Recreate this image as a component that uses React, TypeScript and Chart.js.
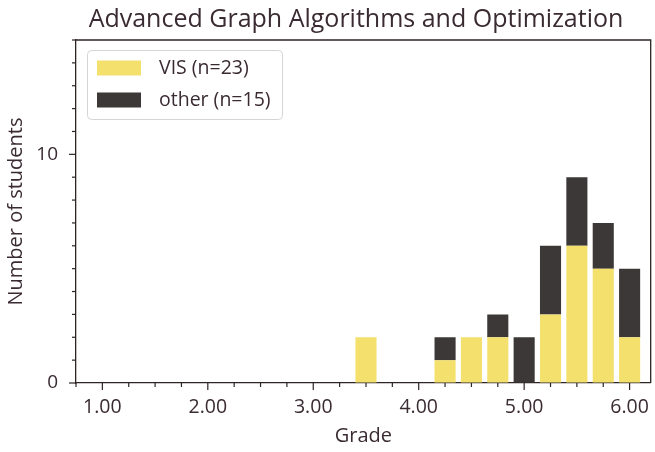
import React, { useEffect, useRef } from "react";
import { Chart, registerables } from "chart.js";

Chart.register(...registerables);

const TITLE = "Advanced Graph Algorithms and Optimization";
const X_TITLE = "Grade";
const Y_TITLE = "Number of students";

const GRADES = [3.5, 4.25, 4.5, 4.75, 5.0, 5.25, 5.5, 5.75, 6.0];
const VIS_COUNTS = [2, 1, 2, 2, 0, 3, 6, 5, 2];
const OTHER_COUNTS = [0, 1, 0, 1, 2, 3, 3, 2, 3];
const VIS_LABEL = "VIS (n=23)";
const OTHER_LABEL = "other (n=15)";
const Y_MAJOR = [0, 10];

const FONT = "'Open Sans', sans-serif";
const TEXT = "#3a2b33";
const AXIS = "#2e2424";
const YELLOW = "#f4e06c";
const DARK = "#3b3837";

const titlePlugin = {
  id: "chartTitle",
  afterDraw(chart: any) {
    const ctx = chart.ctx;
    ctx.save();
    ctx.font = `25px ${FONT}`;
    ctx.fillStyle = TEXT;
    ctx.textAlign = "center";
    ctx.textBaseline = "alphabetic";
    ctx.fillText(TITLE, 356, 27);
    ctx.restore();
  },
};

const ticksPlugin = {
  id: "customTicks",
  afterDraw(chart: any) {
    const ctx = chart.ctx;
    const x = chart.scales.x;
    const y = chart.scales.y;
    const area = chart.chartArea;
    ctx.save();
    ctx.strokeStyle = AXIS;
    ctx.lineWidth = 1.3;
    ctx.beginPath();
    ctx.moveTo(area.left, area.top);
    ctx.lineTo(area.right, area.top);
    ctx.lineTo(area.right, area.bottom);
    ctx.stroke();
    ctx.lineWidth = 1.2;
    x.ticks.forEach((t: any) => {
      const px = x.getPixelForValue(t.value);
      const major = Math.abs(t.value - Math.round(t.value)) < 1e-6;
      const len = major ? 7 : 4;
      ctx.beginPath();
      ctx.moveTo(px, area.bottom);
      ctx.lineTo(px, area.bottom + len);
      ctx.stroke();
    });
    y.ticks.forEach((t: any) => {
      const py = y.getPixelForValue(t.value);
      const major = Y_MAJOR.includes(t.value);
      const len = major ? 7 : 4;
      ctx.beginPath();
      ctx.moveTo(area.left, py);
      ctx.lineTo(area.left - len, py);
      ctx.stroke();
    });
    ctx.restore();
  },
};

const legendPlugin = {
  id: "insideLegend",
  afterDraw(chart: any) {
    const ctx = chart.ctx;
    const area = chart.chartArea;
    const ds = chart.data.datasets;
    const bx = area.left + 11;
    const by = area.top + 10;
    const bw = 195;
    const bh = 69;
    ctx.save();
    ctx.fillStyle = "rgba(255,255,255,0.9)";
    ctx.strokeStyle = "#d6d3d3";
    ctx.lineWidth = 1;
    ctx.beginPath();
    (ctx as any).roundRect(bx + 0.5, by + 0.5, bw, bh, 4);
    ctx.fill();
    ctx.stroke();
    ctx.font = `19.5px ${FONT}`;
    ctx.textBaseline = "middle";
    ds.forEach((d: any, i: number) => {
      const cy = by + 18 + i * 32;
      ctx.fillStyle = d.backgroundColor;
      ctx.fillRect(bx + 10, cy - 7.5, 44, 15);
      ctx.fillStyle = TEXT;
      ctx.fillText(d.label, bx + 72, cy);
    });
    ctx.restore();
  },
};

export default function App() {
  const ref = useRef<HTMLCanvasElement>(null);
  useEffect(() => {
    document.body.style.margin = "0";
    const chart = new Chart(ref.current!, {
      type: "bar",
      data: {
        datasets: [
          {
            label: VIS_LABEL,
            data: GRADES.map((g, i) => ({ x: g, y: VIS_COUNTS[i] })),
            backgroundColor: YELLOW,
            barPercentage: 0.8,
            categoryPercentage: 1,
          },
          {
            label: OTHER_LABEL,
            data: GRADES.map((g, i) => ({ x: g, y: OTHER_COUNTS[i] })),
            backgroundColor: DARK,
            barPercentage: 0.8,
            categoryPercentage: 1,
          },
        ],
      },
      options: {
        animation: false,
        responsive: false,
        layout: { padding: { left: 0, right: 3, top: 40, bottom: 0 } },
        plugins: {
          legend: { display: false },
          tooltip: { enabled: false },
          title: { display: false },
        },
        scales: {
          x: {
            type: "linear",
            stacked: true,
            min: 0.75,
            max: 6.2,
            offset: false,
            afterFit: (s: any) => {
              s.height = 69;
            },
            ticks: {
              stepSize: 0.25,
              includeBounds: false,
              autoSkip: false,
              maxRotation: 0,
              color: TEXT,
              padding: 6,
              font: { family: FONT, size: 19.5 },
              callback: (v: any) =>
                Math.abs(v - Math.round(v)) < 1e-6 ? Number(v).toFixed(2) : "",
            },
            grid: {
              display: true,
              drawOnChartArea: false,
              drawTicks: true,
              tickLength: 7,
              tickColor: "rgba(0,0,0,0)",
            },
            border: { display: true, color: AXIS, width: 1.3 },
            title: {
              display: true,
              text: X_TITLE,
              color: TEXT,
              font: { family: FONT, size: 20 },
              padding: { top: 0, bottom: 4 },
            },
          },
          y: {
            stacked: true,
            min: 0,
            max: 15,
            afterFit: (s: any) => {
              s.width = 76;
            },
            ticks: {
              stepSize: 1,
              autoSkip: false,
              color: TEXT,
              padding: 11,
              font: { family: FONT, size: 19 },
              callback: (v: any) => (Y_MAJOR.includes(v) ? String(v) : ""),
            },
            grid: {
              display: true,
              drawOnChartArea: false,
              drawTicks: true,
              tickLength: 7,
              tickColor: "rgba(0,0,0,0)",
            },
            border: { display: true, color: AXIS, width: 1.3 },
            title: {
              display: true,
              text: Y_TITLE,
              color: TEXT,
              font: { family: FONT, size: 20 },
              padding: { top: 4, bottom: 0 },
            },
          },
        },
      },
      plugins: [titlePlugin, ticksPlugin, legendPlugin],
    });
    return () => chart.destroy();
  }, []);
  return (
    <div style={{ width: 655, height: 452 }}>
      <canvas ref={ref} width={655} height={452} style={{ display: "block" }} />
    </div>
  );
}
